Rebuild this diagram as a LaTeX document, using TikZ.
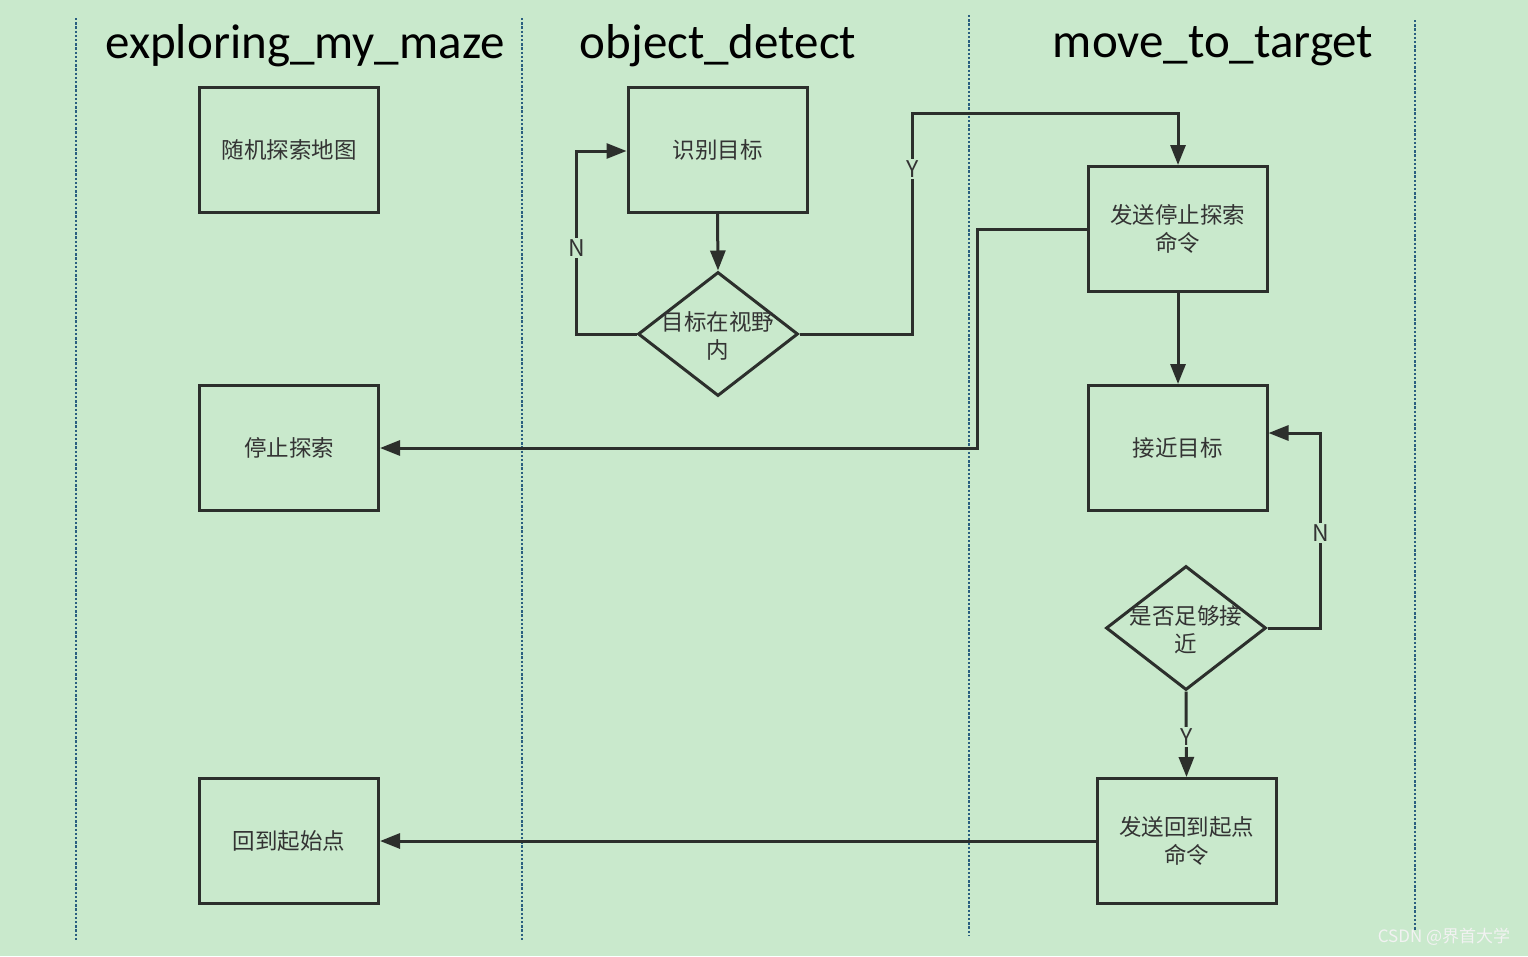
\documentclass[tikz,border=0pt]{standalone}
\usepackage{fontspec}
\setmainfont{Carlito}
\newfontfamily\cjk{Noto Sans CJK SC}
\usetikzlibrary{arrows.meta,shapes.geometric}
\definecolor{bg}{HTML}{C9E9CC}
\definecolor{ln}{HTML}{2C2F2C}
\definecolor{tx}{HTML}{333333}
\definecolor{lane}{HTML}{2A5F80}
\definecolor{wm}{HTML}{F2F2F2}
\begin{document}
\begin{tikzpicture}[x=1pt,y=-1pt,
  lanesep/.style={draw=lane,line width=2.8pt,dash pattern=on 2.4pt off 1.8pt},
  title/.style={font=\fontsize{49}{52}\selectfont,text=black,inner sep=0pt},
  procbox/.style={draw=ln,line width=3pt,minimum width=179pt,minimum height=125pt,inner sep=0pt,
    font=\cjk\fontsize{22.5}{28}\selectfont,text=tx,align=center},
  decbox/.style={draw=ln,line width=3pt,shape=diamond,minimum width=160pt,minimum height=124pt,inner sep=0pt},
  dectext/.style={font=\cjk\fontsize{22.5}{28}\selectfont,text=tx,align=center,inner sep=0pt},
  conn/.style={draw=ln,line width=3pt,-{Triangle[length=20pt,width=15pt]}},
  yn/.style={font=\cjk\fontsize{23}{25}\selectfont,text=tx,fill=bg,inner sep=2pt}
]
\fill[bg] (0,0) rectangle (1528,956);
\useasboundingbox (0,0) rectangle (1528,956);

% lanes
\coordinate (l1t) at (76,18);  \coordinate (l1b) at (76,940);
\coordinate (l2t) at (522,18); \coordinate (l2b) at (522,940);
\coordinate (l3t) at (969,15); \coordinate (l3b) at (969,935);
\coordinate (l4t) at (1415,20);\coordinate (l4b) at (1415,930);
\draw[lanesep] (l1t) -- (l1b);
\draw[lanesep] (l2t) -- (l2b);
\draw[lanesep] (l3t) -- (l3b);
\draw[lanesep] (l4t) -- (l4b);

% titles
\node[title] (t1) at (305,46) {exploring\_my\_maze};
\node[title] (t2) at (718,46) {object\_detect};
\node[title] (t3) at (1213,46) {move\_to\_target};

% boxes
\node[procbox] (explore) at (289,150) {随机探索地图};
\node[procbox] (stop) at (289,448) {停止探索};
\node[procbox] (home) at (289,841) {回到起始点};
\node[procbox] (detect) at (717.5,150) {识别目标};
\node[procbox] (sendstop) at (1177.5,229) {发送停止探索\\命令};
\node[procbox] (approach) at (1177.5,448) {接近目标};
\node[procbox] (sendhome) at (1186.5,841) {发送回到起点\\命令};

% decisions
\node[decbox] (inview) at (718,334) {};
\node[dectext] (inviewt) at (718,336) {目标在视野\\内};
\node[decbox] (close) at (1186,628) {};
\node[dectext] (closet) at (1186,630) {是否足够接\\近};

% connectors
\draw[conn] (detect.south) -- (inview.north);
\draw[conn] (inview.west) -- (576,334) -- (576,151) -- (detect.west |- 0,151);
\node[yn] (n1) at (577,248) {N};
\draw[conn] (inview.east) -- (912,334) -- (912,113) -- (1178,113) -- (sendstop.north -| 1178,0);
\node[yn] (y1) at (913,169) {Y};
\draw[conn] (sendstop.west) -- (977,229) -- (977,448) -- (stop.east);
\draw[conn] (sendstop.south -| 1178,0) -- (approach.north -| 1178,0);
\draw[conn] (close.east) -- (1320,628) -- (1320,433) -- (approach.east |- 0,433);
\node[yn] (n2) at (1321,533) {N};
\draw[conn] (close.south) -- (sendhome.north);
\node[yn] (y2) at (1187,737) {Y};
\draw[conn] (sendhome.west) -- (home.east);

% watermark
\node[font=\cjk\fontsize{17}{19}\selectfont,text=wm,inner sep=0pt] (wmk) at (1444,937) {CSDN @界首大学};
\end{tikzpicture}
\end{document}
